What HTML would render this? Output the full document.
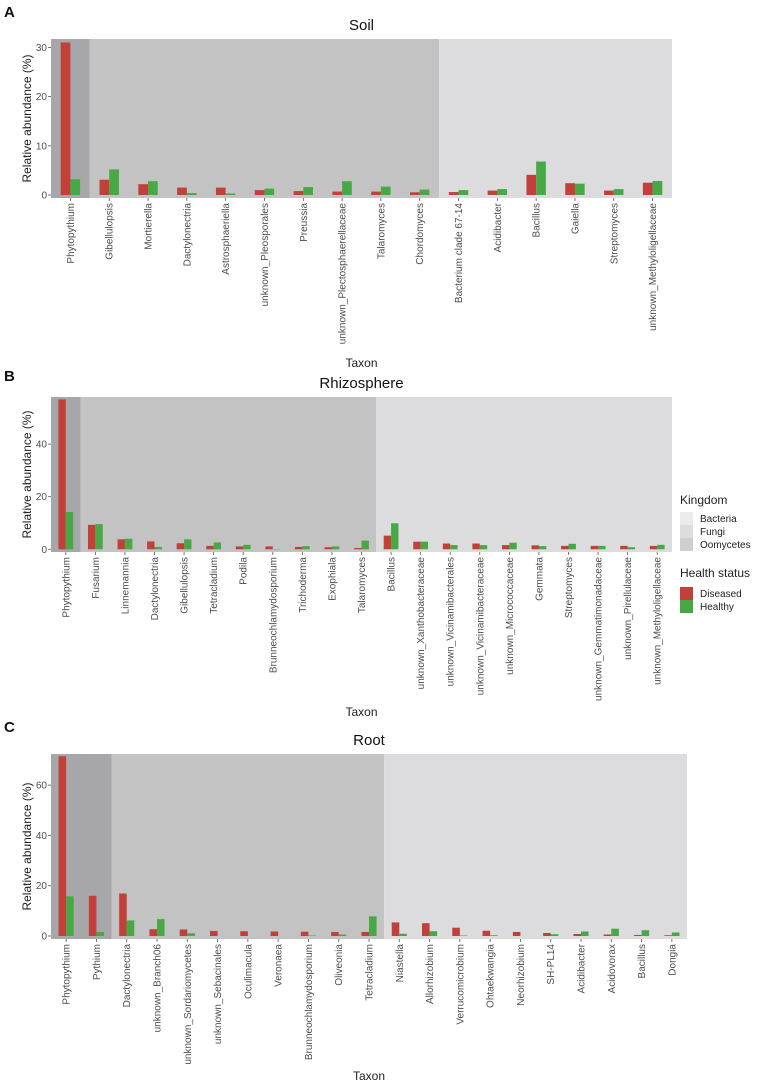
<!DOCTYPE html>
<html><head><meta charset="utf-8"><style>
body{margin:0;background:#fff;}
svg{display:block;font-family:"Liberation Sans",sans-serif;}
</style></head><body>
<svg id="fig" width="767" height="1086" viewBox="0 0 767 1086"></svg>
<script>
// Panel A - Soil
const catsA = ["Phytopythium","Gibellulopsis","Mortierella","Dactylonectria","Astrosphaeriella","unknown_Pleosporales","Preussia","unknown_Plectosphaerellaceae","Talaromyces","Chordomyces","Bacterium clade 67-14","Acidibacter","Bacillus","Gaiella","Streptomyces","unknown_Methyloligellaceae"];
const kingA = ["O","F","F","F","F","F","F","F","F","F","B","B","B","B","B","B"];
const disA = [31,3.1,2.2,1.5,1.5,1.0,0.8,0.7,0.7,0.55,0.6,0.9,4.1,2.4,0.9,2.5];
const heaA = [3.2,5.2,2.8,0.4,0.3,1.3,1.6,2.8,1.7,1.1,1.0,1.2,6.8,2.3,1.2,2.85];
const ticksA = [0,10,20,30];
// Panel B - Rhizosphere
const catsB = ["Phytopythium","Fusarium","Linnemannia","Dactylonectria","Gibellulopsis","Tetracladium","Podila","Brunneochlamydosporium","Trichoderma","Exophiala","Talaromyces","Bacillus","unknown_Xanthobacteraceae","unknown_Vicinamibacterales","unknown_Vicinamibacteraceae","unknown_Micrococcaceae","Gemmata","Streptomyces","unknown_Gemmatimonadaceae","unknown_Pirellulaceae","unknown_Methyloligellaceae"];
const kingB = ["O","F","F","F","F","F","F","F","F","F","F","B","B","B","B","B","B","B","B","B","B"];
const disB = [57,9.3,3.8,3.0,2.3,1.3,1.1,1.1,0.9,0.8,0.5,5.2,2.9,2.2,2.2,1.6,1.5,1.3,1.3,1.3,1.3];
const heaB = [14.2,9.6,4.0,0.9,3.8,2.6,1.7,0.1,1.2,1.1,3.3,9.9,2.9,1.6,1.6,2.5,1.2,2.1,1.3,0.8,1.7];
const ticksB = [0,20,40];
// Panel C - Root
const catsC = ["Phytopythium","Pythium","Dactylonectria","unknown_Branch06","unknown_Sordariomycetes","unknown_Sebacinales","Oculimacula","Veronaea","Brunneochlamydosporium","Oliveonia","Tetracladium","Niastella","Allorhizobium","Verrucomicrobium","Ohtaekwangia","Neorhizobium","SH-PL14","Acidibacter","Acidovorax","Bacillus","Dongia"];
const kingC = ["O","O","F","F","F","F","F","F","F","F","F","B","B","B","B","B","B","B","B","B","B"];
const disC = [71.5,16,16.9,2.7,2.6,2.0,1.9,1.8,1.7,1.6,1.6,5.4,5.1,3.3,2.1,1.6,1.2,0.8,0.6,0.4,0.3];
const heaC = [15.8,1.6,6.2,6.7,1.1,0,0,0,0.2,0.6,7.8,0.9,1.9,0.2,0.3,0,0.7,1.8,2.9,2.3,1.4];
const ticksC = [0,20,40,60];

const NS="http://www.w3.org/2000/svg";
const svg=document.getElementById('fig');
const bgCol={O:"#a7a7aa",F:"#c3c3c3",B:"#dcdcde"};
function mk(tag,attrs,parent){const e=document.createElementNS(NS,tag);for(const k in attrs)e.setAttribute(k,attrs[k]);(parent||svg).appendChild(e);return e;}

function panel(cfg,cats,king,dis,hea,ticks){
  const g=mk('g',{});
  
  
  const n=cats.length, step=(cfg.x1-cfg.x0)/n;
  const xc=i=>cfg.x0+(i+0.5)*step;
  const y=v=>cfg.zero-v*cfg.ppu;
  let s=0;
  for(let i=1;i<=n;i++){
    if(i===n||king[i]!==king[s]){
      const r=mk('rect',{x:cfg.x0+s*step,y:cfg.top,width:(i-s)*step,height:cfg.bottom-cfg.top,fill:bgCol[king[s]]},g);
      
      
      s=i;
    }
  }
  const bw=step*0.25;
  for(let i=0;i<n;i++){
    const r1=mk('rect',{x:xc(i)-bw,y:y(dis[i]),width:bw,height:Math.max(0,dis[i]*cfg.ppu),fill:"#c1403a"},g);
    
    
    const r2=mk('rect',{x:xc(i),y:y(hea[i]),width:bw,height:Math.max(0,hea[i]*cfg.ppu),fill:"#47a845"},g);
    
    
    mk('line',{x1:xc(i),x2:xc(i),y1:cfg.bottom,y2:cfg.bottom+3,stroke:"#555","stroke-width":0.8},g);
    const t=mk('text',{x:0,y:0,transform:`translate(${xc(i)+3.5},${cfg.bottom+5}) rotate(-90)`,"text-anchor":"end","font-size":"10","fill":"#4d4d4d"},g);
    t.textContent=cats[i];
    
    
  }
  for(const v of ticks){
    mk('line',{x1:cfg.x0-3,x2:cfg.x0,y1:y(v),y2:y(v),stroke:"#555","stroke-width":0.8},g);
    const t=mk('text',{x:cfg.x0-4,y:y(v)+3.5,"text-anchor":"end","font-size":"10","fill":"#4d4d4d"},g);
    t.textContent=v;
    
    
  }
  const yt=mk('text',{transform:`translate(31,${(cfg.top+cfg.bottom)/2}) rotate(-90)`,"text-anchor":"middle","font-size":"12","fill":"#222"},g);
  yt.textContent="Relative abundance (%)";
  
  
  const ti=mk('text',{x:(cfg.x0+cfg.x1)/2,y:cfg.titleY,"text-anchor":"middle","font-size":"15","fill":"#111"},g);
  ti.textContent=cfg.title;
  
  
  const lt=mk('text',{x:4,y:cfg.letterY,"font-size":"15","font-weight":"bold","fill":"#111"},g);
  lt.textContent=cfg.letter;
  
  
  const xt=mk('text',{x:(cfg.x0+cfg.x1)/2,y:cfg.taxonY,"text-anchor":"middle","font-size":"12","fill":"#222"},g);
  xt.textContent="Taxon";
  
  
}
panel({name:'soil',x0:51,x1:672,top:39,bottom:198,zero:195,ppu:4.92,title:"Soil",titleY:30,letter:"A",letterY:17,taxonY:367},catsA,kingA,disA,heaA,ticksA);
panel({name:'rhizosphere',x0:51,x1:672,top:397,bottom:552,zero:549.3,ppu:2.63,title:"Rhizosphere",titleY:388,letter:"B",letterY:381,taxonY:716},catsB,kingB,disB,heaB,ticksB);
panel({name:'root',x0:51,x1:687,top:754,bottom:939,zero:936,ppu:2.515,title:"Root",titleY:745,letter:"C",letterY:732,taxonY:1080},catsC,kingC,disC,heaC,ticksC);

const lg=mk('g',{});


function lt(x,y,s,size,name){const t=mk('text',{x:x,y:y,"font-size":size,"fill":"#222"},lg);t.textContent=s;}
lt(680,504,"Kingdom","12","legend-title-kingdom");
const kEntries=[["Bacteria","#ebebeb"],["Fungi","#dddddd"],["Oomycetes","#cfcfcf"]];
kEntries.forEach((e,i)=>{const r=mk('rect',{x:680,y:512+i*13,width:13,height:13,fill:e[1]},lg);lt(700,522+i*13,e[0],"10","legend-entry");});
lt(680,577,"Health  status","12","legend-title-health");
const hEntries=[["Diseased","#c1403a"],["Healthy","#47a845"]];
hEntries.forEach((e,i)=>{const r=mk('rect',{x:680,y:587+i*13,width:13,height:13,fill:e[1]},lg);lt(700,597+i*13,e[0],"10","legend-entry");});
</script>
</body></html>
